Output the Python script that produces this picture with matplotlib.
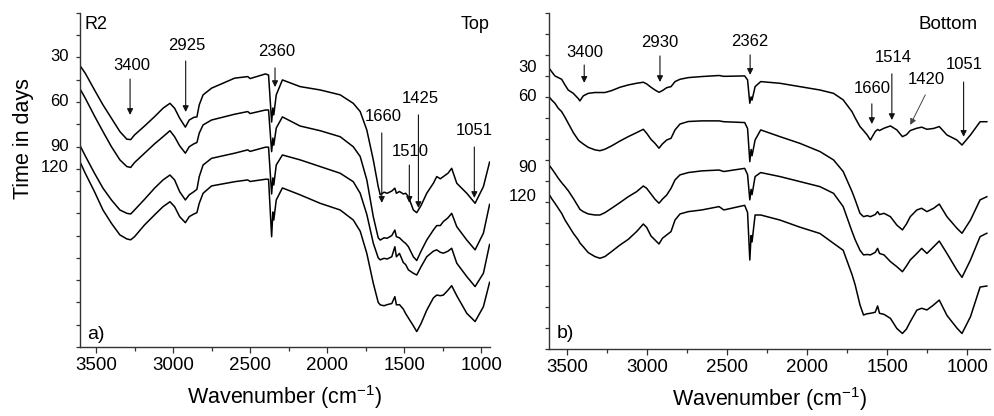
import matplotlib
matplotlib.use('Agg')
import matplotlib.pyplot as plt
from matplotlib.ticker import MultipleLocator, NullFormatter

plt.rcParams['font.family'] = ['Liberation Sans', 'DejaVu Sans']
plt.rcParams['mathtext.default'] = 'regular'

# ---- panel a) Top ----
wn_top = [3600, 3570, 3510, 3455, 3400, 3345, 3300, 3275, 3250, 3185, 3120, 3065, 3020, 2990,
          2957, 2920, 2895, 2865, 2845, 2830, 2805, 2750, 2600,
          2515, 2500, 2400, 2380, 2360, 2352, 2346, 2330, 2290, 2175, 2045, 1915, 1830, 1785,
          1742, 1700, 1668, 1655, 1630, 1610, 1580, 1560, 1550, 1530, 1505, 1490, 1472, 1440,
          1418, 1390, 1353, 1310, 1288, 1265, 1245, 1215, 1191, 1158, 1093, 1039, 985, 945]
top_30 = [12.59, 12.29, 11.54, 10.87, 10.27, 9.67, 9.33, 9.31, 9.52, 9.92, 10.34, 10.72, 10.94, 10.72,
          10.27, 9.87, 10.19, 10.31, 10.33, 10.87, 11.32, 11.62, 12.07,
          12.14, 12.05, 12.26, 12.21, 10.1, 10.73, 10.42, 11.32, 11.99, 11.69, 11.54, 11.32, 10.94, 10.57,
          9.74, 8.40, 7.20, 6.83, 6.95, 6.90, 7.0, 7.13, 6.90, 6.98, 6.87, 6.90, 6.75, 6.15,
          6.03, 6.35, 6.90, 7.35, 7.65, 7.55, 7.65, 7.80, 8.02, 7.35, 6.90, 6.45, 7.20, 8.30]
top_60 = [11.54, 11.17, 10.37, 9.67, 8.99, 8.40, 8.10, 8.06, 8.28, 8.70, 9.12, 9.44, 9.71, 9.44,
          9.03, 8.70, 8.99, 9.12, 9.18, 9.60, 9.97, 10.19, 10.45,
          10.57, 10.48, 10.64, 10.64, 8.77, 9.38, 9.06, 9.83, 10.33, 9.92, 9.71, 9.44, 8.99, 8.55,
          7.5, 5.85, 4.9, 4.80, 4.9, 4.88, 5.0, 5.25, 4.95, 4.9, 4.73, 4.65, 4.50, 4.05,
          3.88, 4.3, 4.80, 5.25, 5.45, 5.45, 5.63, 5.8, 6.0, 5.40, 4.80, 4.36, 5.11, 6.4]
top_90 = [8.99, 8.58, 7.80, 7.13, 6.60, 6.15, 6.0, 5.97, 6.15, 6.63, 7.13, 7.50, 7.72, 7.50,
          6.97, 6.60, 6.83, 6.97, 7.08, 7.65, 8.17, 8.47, 8.7,
          8.85, 8.78, 8.97, 8.97, 6.87, 7.59, 7.27, 8.17, 8.62, 8.40, 8.10, 7.80, 7.42, 6.9,
          5.95, 4.66, 4.0, 3.91, 3.98, 3.95, 4.05, 4.50, 4.05, 4.2, 3.79, 3.7, 3.46, 3.31,
          3.23, 3.6, 4.05, 4.30, 4.36, 4.25, 4.21, 4.3, 4.43, 3.76, 3.16, 2.71, 3.31, 4.6]
top_120 = [8.25, 7.80, 6.97, 6.15, 5.55, 5.03, 4.85, 4.81, 4.95, 5.48, 5.93, 6.30, 6.52, 6.30,
           5.85, 5.58, 5.85, 5.97, 6.03, 6.45, 6.90, 7.23, 7.42,
           7.5, 7.43, 7.53, 7.53, 4.95, 6.06, 5.70, 6.60, 7.14, 6.83, 6.45, 6.15, 5.70, 5.2,
           4.2, 2.86, 2.0, 1.89, 1.85, 1.90, 1.95, 2.26, 1.89, 1.9, 1.7, 1.5, 1.3, 0.95,
           0.69, 1.05, 1.65, 2.2, 2.33, 2.3, 2.33, 2.55, 2.75, 2.3, 1.51, 1.14, 1.81, 2.9]

# ---- panel b) Bottom ----
wn_bot = [3612, 3596, 3575, 3554, 3533, 3512, 3492, 3460, 3429, 3419, 3398, 3367, 3325, 3294,
          3263, 3221, 3169, 3117, 3065, 3023, 3002, 2975, 2950, 2925, 2904, 2877, 2850, 2825,
          2794, 2742, 2658, 2550, 2520, 2390, 2372, 2358, 2350, 2344, 2325, 2290,
          2170, 2045, 1920, 1835, 1775, 1720, 1700, 1670, 1648, 1625, 1605, 1575, 1560, 1548,
          1520, 1480, 1440, 1405, 1380, 1356, 1315, 1285, 1252, 1210, 1175, 1127, 1065, 1033,
          980, 920, 878]
bot_30 = [13.37, 13.21, 13.0, 12.92, 12.84, 12.57, 12.33, 12.17, 11.92, 11.81, 12.05, 12.17, 12.21, 12.21,
          12.21, 12.3, 12.46, 12.57, 12.65, 12.70, 12.62, 12.46, 12.33, 12.22, 12.30, 12.44, 12.49, 12.73,
          12.84, 12.92, 12.97, 13.02, 12.98, 13.0, 12.81, 11.70, 12.0, 11.85, 12.49, 12.73,
          12.65, 12.49, 12.33, 12.17, 11.86, 11.30, 11.0, 10.59, 10.4, 10.19, 9.95, 10.35, 10.45, 10.4,
          10.51, 10.62, 10.43, 10.11, 10.2, 10.40, 10.51, 10.56, 10.46, 10.5, 10.59, 10.19, 9.95, 9.71,
          10.19, 10.82, 10.82]
bot_60 = [12.01, 11.86, 11.70, 11.46, 11.30, 11.03, 10.75, 10.30, 9.95, 9.88, 9.76, 9.60, 9.48, 9.44,
          9.51, 9.67, 9.90, 10.11, 10.30, 10.46, 10.27, 9.98, 9.79, 9.56, 9.76, 9.95, 10.03, 10.43,
          10.71, 10.83, 10.86, 10.86, 10.82, 10.78, 10.5, 8.92, 9.5, 9.2, 9.95, 10.43,
          10.11, 9.79, 9.40, 9.0, 8.45, 7.5, 7.10, 6.46, 6.30, 6.35, 6.30, 6.4, 6.54, 6.4,
          6.46, 6.30, 5.90, 5.67, 5.95, 6.30, 6.62, 6.70, 6.54, 6.7, 6.90, 6.30, 5.75, 5.51,
          6.14, 7.10, 7.25]
bot_90 = [8.76, 8.60, 8.37, 8.13, 7.92, 7.73, 7.54, 7.17, 6.78, 6.65, 6.54, 6.43, 6.38, 6.38,
          6.49, 6.70, 6.97, 7.25, 7.49, 7.76, 7.65, 7.38, 7.13, 6.94, 7.13, 7.33, 7.65, 8.05,
          8.29, 8.40, 8.48, 8.52, 8.45, 8.60, 8.3, 7.10, 7.6, 7.35, 8.21, 8.40,
          8.21, 7.97, 7.73, 7.41, 6.78, 5.6, 5.2, 4.7, 4.48, 4.5, 4.48, 4.6, 4.79, 4.55,
          4.48, 4.16, 3.92, 3.68, 3.95, 4.24, 4.55, 4.79, 4.55, 4.87, 5.14, 4.55, 3.76, 3.41,
          4.24, 5.35, 5.51]
bot_120 = [7.37, 7.17, 6.94, 6.70, 6.46, 6.14, 5.90, 5.51, 5.19, 5.05, 4.87, 4.59, 4.40, 4.32,
           4.40, 4.64, 4.95, 5.22, 5.59, 5.95, 5.79, 5.38, 5.19, 5.00, 5.27, 5.43, 5.59, 6.14,
           6.43, 6.54, 6.62, 6.78, 6.62, 6.84, 6.5, 4.24, 5.4, 5.1, 6.38, 6.38,
           6.14, 5.8, 5.5, 5.03, 4.7, 3.55, 3.05, 2.1, 1.62, 1.68, 1.70, 1.75, 2.05, 1.70,
           1.65, 1.46, 0.98, 0.74, 0.95, 1.3, 1.85, 1.94, 1.86, 2.1, 2.33, 1.6, 1.0, 0.74,
           1.54, 2.95, 3.0]

days = ['30', '60', '90', '120']
day_pos_top = [13.02, 11.0, 8.98, 8.04]
day_pos_bot = [13.38, 12.0, 8.62, 7.24]

# peak labels: (text, text x, text y, arrow x, arrow top y, arrow tip y)
peaks_top = [('3400', 3266, 12.62, 3279, 12.03, 10.42),
             ('2925', 2909, 13.52, 2918, 12.84, 10.55),
             ('2360', 2325, 13.25, 2338, 12.53, 11.67),
             ('1660', 1636, 10.33, 1645, 9.61, 6.47),
             ('1510', 1461, 8.76, 1466, 8.17, 6.47),
             ('1425', 1396, 11.14, 1407, 10.42, 6.24),
             ('1051', 1045, 9.70, 1044, 8.98, 6.69)]
peaks_bot = [('3400', 3387, 14.10, 3392, 13.52, 12.67),
             ('2930', 2919, 14.57, 2919, 13.95, 12.71),
             ('2362', 2356, 14.62, 2356, 14.0, 13.05),
             ('1660', 1594, 12.38, 1596, 11.67, 10.71),
             ('1514', 1463, 13.90, 1471, 13.10, 10.90),
             ('1051', 1019, 13.52, 1023, 12.71, 10.10)]

fig = plt.figure(figsize=(9.94, 4.16), dpi=100)
ax1 = fig.add_axes([0.0805, 0.166, 0.4125, 0.803])
ax2 = fig.add_axes([0.5523, 0.161, 0.4437, 0.808])


def style(ax, xlim, ylim):
    ax.set_xlim(*xlim)
    ax.set_ylim(*ylim)
    for s in ['top', 'right']:
        ax.spines[s].set_visible(False)
    for s in ['left', 'bottom']:
        ax.spines[s].set_linewidth(1.0)
        ax.spines[s].set_color('#333333')
    ax.xaxis.set_major_locator(MultipleLocator(500))
    ax.xaxis.set_minor_locator(MultipleLocator(250))
    ax.yaxis.set_major_locator(MultipleLocator(1))
    ax.yaxis.set_major_formatter(NullFormatter())
    ax.tick_params(axis='x', which='major', direction='out', length=4.5, width=0.9,
                   labelsize=13.5, pad=3, color='#333333')
    ax.tick_params(axis='x', which='minor', direction='out', length=3, width=0.9, color='#333333')
    ax.tick_params(axis='y', which='major', direction='out', length=3, width=0.9, color='#333333')
    ax.set_xlabel('Wavenumber (cm$^{-1}$)', fontsize=15.5, labelpad=6)


style(ax1, (3604, 942), (0, 15))
style(ax2, (3612, 858), (0, 16))

for vals in [top_30, top_60, top_90, top_120]:
    ax1.plot(wn_top, vals, color='black', lw=1.1)
for vals in [bot_30, bot_60, bot_90, bot_120]:
    ax2.plot(wn_bot, vals, color='black', lw=1.1)

for ax, pos in [(ax1, day_pos_top), (ax2, day_pos_bot)]:
    for lab, y in zip(days, pos):
        ax.text(-0.028, y, lab, transform=ax.get_yaxis_transform(), ha='right', va='center',
                fontsize=12)

arrow = dict(arrowstyle='-|>', color='#111111', lw=0.8, mutation_scale=9, shrinkA=0, shrinkB=0)
for ax, peaks in [(ax1, peaks_top), (ax2, peaks_bot)]:
    for lab, tx, ty, axx, y0, y1 in peaks:
        ax.text(tx, ty, lab, ha='center', va='center', fontsize=12)
        ax.annotate('', xy=(axx, y1), xytext=(axx, y0), arrowprops=arrow)

# slanted arrow for 1420 in panel b
ax2.text(1256, 12.81, '1420', ha='center', va='center', fontsize=12)
ax2.annotate('', xy=(1356, 10.67), xytext=(1262, 12.10),
             arrowprops=dict(arrowstyle='-|>', color='#444444', lw=0.7, mutation_scale=9,
                             shrinkA=0, shrinkB=0))

ax1.text(0.012, 0.966, 'R2', transform=ax1.transAxes, ha='left', va='center', fontsize=13)
ax1.text(0.998, 0.966, 'Top', transform=ax1.transAxes, ha='right', va='center', fontsize=13)
ax2.text(0.973, 0.966, 'Bottom', transform=ax2.transAxes, ha='right', va='center', fontsize=13.5)
ax1.text(0.017, 0.036, 'a)', transform=ax1.transAxes, ha='left', va='center', fontsize=14)
ax2.text(0.018, 0.045, 'b)', transform=ax2.transAxes, ha='left', va='center', fontsize=14)

fig.text(0.024, 0.668, 'Time in days', rotation=90, ha='center', va='center', fontsize=15.5)

fig.savefig('out.png', dpi=100)
